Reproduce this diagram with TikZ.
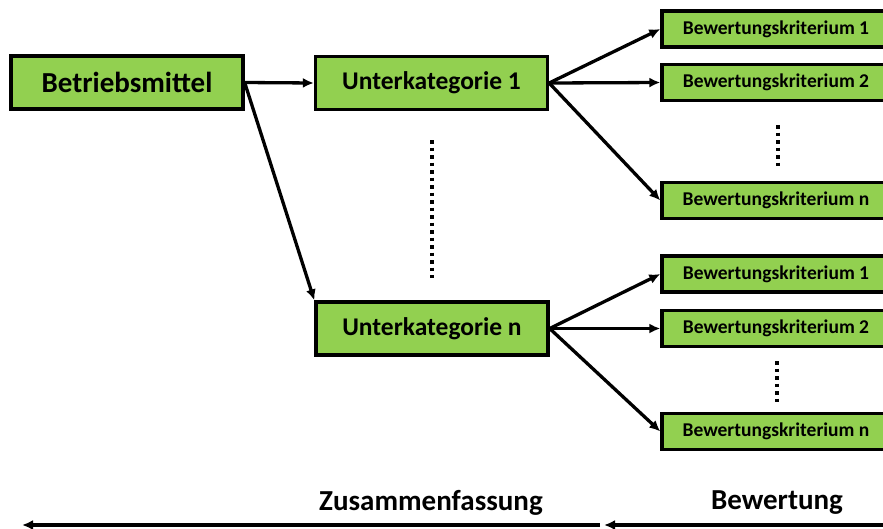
\documentclass[tikz,border=0pt]{standalone}
\usepackage{fontspec}
\setmainfont{Carlito}
\usetikzlibrary{arrows.meta}
\definecolor{boxgreen}{HTML}{92D050}
\begin{document}
\begin{tikzpicture}
          [x=1pt,y=-1pt,line width=3.3pt,>={Latex[length=11pt,width=10pt]},
           every node/.style={draw, fill=boxgreen, inner sep = 0pt, minimum width = 232pt, minimum height = 53pt, font=\fontsize{29}{34}\selectfont\bfseries}]
        \useasboundingbox (0,0) rectangle (883,528);

        \node (n1) at (127,82.5) {Betriebsmittel};
        \node[font=\fontsize{25.5}{30}\selectfont\bfseries] (n2) at (431.5,83) {Unterkategorie 1};
        \node[font=\fontsize{25.5}{30}\selectfont\bfseries] (n3) at (432,328.5) {Unterkategorie n};

        \node[minimum width = 228pt, minimum height = 36pt, font=\fontsize{19.5}{23}\selectfont\bfseries] (n4) at (776,29) {Bewertungskriterium 1};
        \node[minimum width = 228pt, minimum height = 36pt, font=\fontsize{19.5}{23}\selectfont\bfseries] (n5) at (776,82.5) {Bewertungskriterium 2};
        \node[minimum width = 228pt, minimum height = 36pt, font=\fontsize{19.5}{23}\selectfont\bfseries] (n6) at (776,200.5) {Bewertungskriterium n};
        \node[minimum width = 228pt, minimum height = 36pt, font=\fontsize{19.5}{23}\selectfont\bfseries] (n7) at (776,274) {Bewertungskriterium 1};
        \node[minimum width = 228pt, minimum height = 36pt, font=\fontsize{19.5}{23}\selectfont\bfseries] (n8) at (776,328.5) {Bewertungskriterium 2};
        \node[minimum width = 228pt, minimum height = 36pt, font=\fontsize{19.5}{23}\selectfont\bfseries] (n9) at (776,431.5) {Bewertungskriterium n};

        \node[draw=none, fill=none, minimum width = 0pt, minimum height = 0pt] (n10) at (431,503) {Zusammenfassung};
        \node[draw=none, fill=none, minimum width = 0pt, minimum height = 0pt] (n11) at (777,503) {Bewertung};

        \coordinate (c1) at (600,525);
        \coordinate (c2) at (22,525);
        \coordinate (c3) at (890,525);
        \coordinate (c4) at (604,525);

        \draw (n1.east) edge[->] (n2.west);
        \draw (n1.east) edge[->] (n3.north west);

        \foreach \from/\to in {n2/n4, n2/n5, n2/n6, n3/n7, n3/n8, n3/n9}
          \draw (\from.east) edge[->] (\to.west);

        \draw (c1) edge[->] (c2);
        \draw (c3) edge[->] (c4);

        % dotted gaps
        \draw[line width=3.5pt, dash pattern=on 3.5pt off 4pt] (432,140) -- (432,278);
        \draw[line width=3.5pt, dash pattern=on 3.5pt off 4pt] (778,125) -- (778,167);
        \draw[line width=3.5pt, dash pattern=on 3.5pt off 4pt] (777,361) -- (777,403);
      \end{tikzpicture}
\end{document}
